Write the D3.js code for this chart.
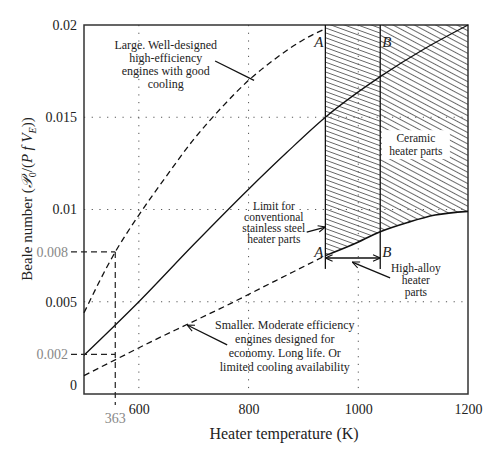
<!DOCTYPE html>
<html lang="en">
<head>
<meta charset="utf-8">
<title>Beale number vs heater temperature</title>
<script src="https://cdn.jsdelivr.net/npm/d3@7"></script>
<style>
  body { margin: 0; background: #fff; }
  svg text { font-family: "Liberation Serif", "DejaVu Serif", serif; fill: #222; }
  .axis text { font-size: 14px; }
  .note { font-size: 12px; }
</style>
</head>
<body>
<script>
// upper dashed curve: large, well-designed engines
var tempHigh = [500, 557, 600, 650, 700, 750, 800, 850, 900, 940];
var bealeHigh = [0.0044, 0.0077, 0.0097, 0.0118, 0.0138, 0.0155, 0.0170, 0.0182, 0.0192, 0.0198];
// solid middle curve
var tempMid = [500, 600, 700, 800, 870, 940, 1040, 1120, 1200];
var bealeMid = [0.0021, 0.0050, 0.0081, 0.0111, 0.0131, 0.0150, 0.0172, 0.0187, 0.0200];
// lower dashed curve: smaller, moderate efficiency engines
var tempLow = [500, 560, 620, 690, 760, 820, 880, 940];
var bealeLow = [0.0010, 0.0019, 0.0028, 0.0038, 0.0048, 0.0057, 0.0066, 0.0075];
// lower limit of the hatched region
var tempLimit = [940, 990, 1040, 1090, 1140, 1200];
var bealeLimit = [0.0075, 0.0081, 0.0088, 0.0093, 0.0097, 0.0099];

var limitA = 940, limitB = 1040;
var refTemp = 557, refTempLabel = "363";
var refLevels = [0.0077, 0.00215];
var refLevelLabels = ["0.008", "0.002"];

var xTicks = [600, 800, 1000, 1200];
var yTicks = [0, 0.005, 0.01, 0.015, 0.02];
var yTickLabels = ["0", "0.005", "0.01", "0.015", "0.02"];
var gridTemps = [600, 800, 1000];
var gridBeale = [0.005, 0.01, 0.015];

var w = 500, h = 460;
var padL = 84, padR = 468, padT = 25, padB = 394;

var x = d3.scaleLinear().domain([500, 1200]).range([padL, padR]);
var y = d3.scaleLinear().domain([0, 0.02]).range([padB, padT]);

var svg = d3.select("body").append("svg")
    .attr("width", w)
    .attr("height", h);

var defs = svg.append("defs");

// hatch patterns
function hatch(id, angle, gap) {
  var p = defs.append("pattern")
      .attr("id", id)
      .attr("patternUnits", "userSpaceOnUse")
      .attr("width", 20)
      .attr("height", gap)
      .attr("patternTransform", "rotate(" + angle + ")");
  p.append("line")
      .attr("x1", 0).attr("y1", gap / 2)
      .attr("x2", 20).attr("y2", gap / 2)
      .attr("stroke", "#444")
      .attr("stroke-width", 0.8);
}
hatch("hatchA", 20, 4.6);
hatch("hatchB", 28, 5);

function arrowMarker(id) {
  defs.append("marker")
      .attr("id", id)
      .attr("viewBox", "0 0 10 10")
      .attr("refX", 10)
      .attr("refY", 5)
      .attr("markerUnits", "userSpaceOnUse")
      .attr("markerWidth", 8)
      .attr("markerHeight", 8)
      .attr("orient", "auto-start-reverse")
    .append("path")
      .attr("d", "M1,1 L10,5 L1,9")
      .attr("fill", "none")
      .attr("stroke", "#111")
      .attr("stroke-width", 1.3);
}
arrowMarker("arrow");

// clip for hatched region: from the lower limit curve up to 0.02
var limitPts = tempLimit.map(function (t, i) { return [t, bealeLimit[i]]; });
var area = d3.area()
    .x(function (d) { return x(d[0]); })
    .y0(y(0.02))
    .y1(function (d) { return y(d[1]); })
    .curve(d3.curveMonotoneX);
defs.append("clipPath").attr("id", "hatchClip")
  .append("path").attr("d", area(limitPts));

// grid
var grid = svg.append("g")
    .attr("stroke", "#555")
    .attr("stroke-width", 1)
    .attr("stroke-dasharray", "1.2,6.5");
grid.selectAll("line.v").data(gridTemps).enter().append("line")
    .attr("class", "v")
    .attr("x1", function (d) { return x(d); })
    .attr("x2", function (d) { return x(d); })
    .attr("y1", padT).attr("y2", padB);
grid.selectAll("line.h").data(gridBeale).enter().append("line")
    .attr("class", "h")
    .attr("y1", function (d) { return y(d); })
    .attr("y2", function (d) { return y(d); })
    .attr("x1", padL).attr("x2", padR);

// hatched regions
var hg = svg.append("g").attr("clip-path", "url(#hatchClip)");
hg.append("rect")
    .attr("x", x(limitA)).attr("y", padT)
    .attr("width", x(limitB) - x(limitA)).attr("height", padB - padT)
    .attr("fill", "url(#hatchA)");
hg.append("rect")
    .attr("x", x(limitB)).attr("y", padT)
    .attr("width", x(1200) - x(limitB)).attr("height", padB - padT)
    .attr("fill", "url(#hatchB)");

// frame
svg.append("rect")
    .attr("x", padL).attr("y", padT)
    .attr("width", padR - padL).attr("height", padB - padT)
    .attr("fill", "none")
    .attr("stroke", "#333")
    .attr("stroke-width", 1.5);

// A and B vertical limits
var limitVals = [limitA, limitB];
svg.selectAll("line.limit").data(limitVals).enter().append("line")
    .attr("class", "limit")
    .attr("x1", function (d) { return x(d); })
    .attr("x2", function (d) { return x(d); })
    .attr("y1", padT)
    .attr("y2", y(0.00678))
    .attr("stroke", "#111")
    .attr("stroke-width", 1.3);

// curves
var line = d3.line()
    .x(function (d) { return x(d[0]); })
    .y(function (d) { return y(d[1]); })
    .curve(d3.curveMonotoneX);

function zip(a, b) { return a.map(function (v, i) { return [v, b[i]]; }); }

svg.append("path")
    .attr("d", line(zip(tempHigh, bealeHigh)))
    .attr("fill", "none").attr("stroke", "#111")
    .attr("stroke-width", 1.3).attr("stroke-dasharray", "6,4");
svg.append("path")
    .attr("d", line(zip(tempMid, bealeMid)))
    .attr("fill", "none").attr("stroke", "#111")
    .attr("stroke-width", 1.3);
svg.append("path")
    .attr("d", line(zip(tempLow, bealeLow)))
    .attr("fill", "none").attr("stroke", "#111")
    .attr("stroke-width", 1.3).attr("stroke-dasharray", "6,4");
svg.append("path")
    .attr("d", line(limitPts))
    .attr("fill", "none").attr("stroke", "#111")
    .attr("stroke-width", 1.6);

// reference dashed lines (363 / 0.008 / 0.002)
var refG = svg.append("g")
    .attr("stroke", "#222")
    .attr("stroke-width", 1.2)
    .attr("stroke-dasharray", "6,4");
refG.append("line")
    .attr("x1", x(refTemp)).attr("x2", x(refTemp))
    .attr("y1", y(refLevels[0])).attr("y2", padB + 11);
refG.selectAll("line.ref").data(refLevels).enter().append("line")
    .attr("class", "ref")
    .attr("x1", padL - 13).attr("x2", x(refTemp))
    .attr("y1", function (d) { return y(d); })
    .attr("y2", function (d) { return y(d); });

svg.selectAll("text.refy").data(refLevels).enter().append("text")
    .attr("class", "refy")
    .attr("x", padL - 16)
    .attr("y", function (d) { return y(d); })
    .attr("dy", "0.35em")
    .attr("text-anchor", "end")
    .style("font-size", "14px")
    .style("fill", "#888")
    .text(function (d, i) { return refLevelLabels[i]; });
svg.append("text")
    .attr("x", x(refTemp))
    .attr("y", padB + 29)
    .attr("text-anchor", "middle")
    .style("font-size", "14px")
    .style("fill", "#888")
    .text(refTempLabel);

// axes
var xAxis = d3.axisBottom(x).tickValues(xTicks).tickSize(0).tickPadding(10)
    .tickFormat(d3.format("d"));
var yAxis = d3.axisLeft(y).tickValues(yTicks).tickSize(0).tickPadding(7)
    .tickFormat(function (d, i) { return yTickLabels[i]; });

var gx = svg.append("g").attr("class", "axis")
    .attr("transform", "translate(0," + padB + ")")
    .call(xAxis);
var gy = svg.append("g").attr("class", "axis")
    .attr("transform", "translate(" + padL + ",0)")
    .call(yAxis);
gx.select(".domain").remove();
gy.select(".domain").remove();
gx.selectAll("text").style("fill", "#222");
gy.selectAll("text").style("fill", "#222");
gy.selectAll(".tick").filter(function (d) { return d === 0; })
    .select("text").attr("y", -9);

// axis titles
svg.append("text")
    .attr("x", 284).attr("y", 439)
    .attr("text-anchor", "middle")
    .style("font-size", "16px")
    .text("Heater temperature (K)");

var yl = svg.append("text")
    .attr("transform", "translate(32,199) rotate(-90)")
    .attr("text-anchor", "middle")
    .style("font-size", "15px");
yl.append("tspan").text("Beale number (");
yl.append("tspan").style("font-style", "italic").text("\u{1D4AB}");
yl.append("tspan").attr("dy", 4).style("font-size", "10px").text("0");
yl.append("tspan").attr("dy", -4).text("/(");
yl.append("tspan").style("font-style", "italic").text("P f V");
yl.append("tspan").attr("dy", 4).style("font-size", "10px").style("font-style", "italic").text("E");
yl.append("tspan").attr("dy", -4).text("))");

// A / B labels
var abLabels = [
  {t: "A", temp: limitA, b: 0.0188, anchor: "end", dx: -2},
  {t: "B", temp: limitB, b: 0.0188, anchor: "start", dx: 2},
  {t: "A", temp: limitA, b: 0.00743, anchor: "end", dx: -2},
  {t: "B", temp: limitB, b: 0.00743, anchor: "start", dx: 2}
];
svg.selectAll("text.ab").data(abLabels).enter().append("text")
    .attr("class", "ab")
    .attr("x", function (d) { return x(d.temp) + d.dx; })
    .attr("y", function (d) { return y(d.b); })
    .attr("text-anchor", function (d) { return d.anchor; })
    .style("font-size", "15px")
    .style("font-style", "italic")
    .text(function (d) { return d.t; });

// double arrow between A and B
svg.append("line")
    .attr("x1", x(limitA)).attr("x2", x(limitB))
    .attr("y1", y(0.00737)).attr("y2", y(0.00737))
    .attr("stroke", "#111").attr("stroke-width", 1.3)
    .attr("marker-start", "url(#arrow)")
    .attr("marker-end", "url(#arrow)");

// annotations
function note(lines, temp, b, gap, size) {
  var t = svg.append("text").attr("class", "note")
      .attr("text-anchor", "middle");
  if (size) t.style("font-size", size + "px");
  lines.forEach(function (s, i) {
    t.append("tspan").attr("x", x(temp)).attr("y", y(b) + i * gap).text(s);
  });
  return t;
}
function pointer(t1, b1, t2, b2, arrow) {
  var l = svg.append("line")
      .attr("x1", x(t1)).attr("y1", y(b1))
      .attr("x2", x(t2)).attr("y2", y(b2))
      .attr("stroke", "#111").attr("stroke-width", 1.3);
  if (arrow) l.attr("marker-end", "url(#arrow)");
}

note(["Large. Well-designed", "high-efficiency", "engines with good", "cooling"], 649, 0.0187, 13);
pointer(739, 0.01805, 810, 0.0170, false);

// ceramic label sits on a white box inside the hatch
svg.append("rect")
    .attr("x", x(1105) - 34).attr("y", y(0.01365) - 12)
    .attr("width", 68).attr("height", 29)
    .attr("fill", "#fff");
note(["Ceramic", "heater parts"], 1105, 0.01365, 12.5, 11.5);

note(["Limit for", "conventional", "stainless steel", "heater parts"], 846, 0.01000, 11, 11.5);
pointer(906, 0.00878, 940, 0.00905, true);

note(["High-alloy", "heater", "parts"], 1105, 0.00660, 12, 11.5);
pointer(1058, 0.00629, 989, 0.00715, true);

note(["Smaller. Moderate efficiency", "engines designed for", "economy. Long life. Or", "limited cooling availability"], 866, 0.00352, 14);
pointer(761, 0.00266, 688, 0.00374, true);
</script>
</body>
</html>
